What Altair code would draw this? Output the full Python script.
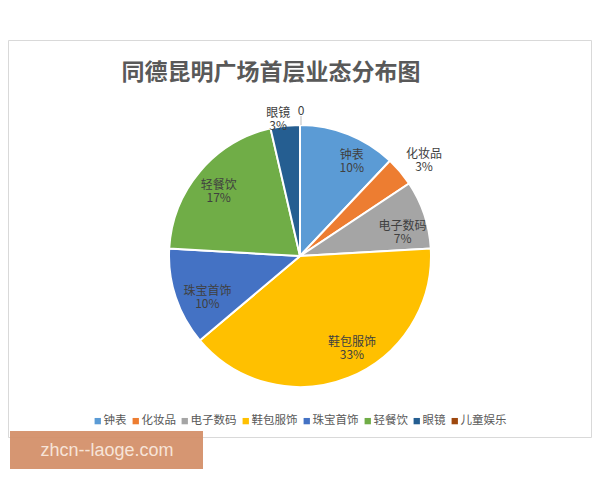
import altair as alt
import pandas as pd

categories = ["钟表", "化妆品", "电子数码", "鞋包服饰", "珠宝首饰", "轻餐饮", "眼镜", "儿童娱乐"]
values = [10, 3, 7, 33, 10, 17, 3, 0]
pct_labels = ["10%", "3%", "7%", "33%", "10%", "17%", "3%", "0"]
colors = ["#5B9BD5", "#ED7D31", "#A5A5A5", "#FFC000", "#4472C4", "#70AD47", "#255E91", "#9E480E"]
title_text = "同德昆明广场首层业态分布图"
watermark = "zhcn--laoge.com"

labels = []
for c, v, p in zip(categories, values, pct_labels):
    labels.append(p if v == 0 else c + "\n" + p)

df = pd.DataFrame({
    "category": categories,
    "value": values,
    "label": labels,
    "idx": list(range(len(categories))),
})

FONT = "Noto Sans CJK SC"
CX, CY = 292, 248
LH = 13

frame = alt.Chart(pd.DataFrame({"a": [0]})).mark_rect(
    fill="white", stroke="#d9d9d9", strokeWidth=1
).encode(
    x=alt.value(0.5), x2=alt.value(583.5), y=alt.value(32.5), y2=alt.value(429.5)
)

title = alt.Chart(pd.DataFrame({"t": [title_text]})).mark_text(
    font=FONT, fontSize=23, fontWeight="bold", color="#595959", align="center", baseline="middle"
).encode(text="t:N", x=alt.value(263), y=alt.value(65))

base = alt.Chart(df).encode(
    theta=alt.Theta("value:Q", stack=True),
    order=alt.Order("idx:Q"),
)

pie = base.mark_arc(outerRadius=131, stroke="white", strokeWidth=2).encode(
    color=alt.Color(
        "category:N",
        sort=categories,
        scale=alt.Scale(domain=categories, range=colors),
        legend=alt.Legend(
            title=None, orient="none", legendX=84, legendY=407, direction="horizontal",
            columns=8, symbolType="square", symbolSize=40, symbolStrokeWidth=0,
            labelFont=FONT, labelFontSize=11.5, labelColor="#595959", labelOffset=0,
            columnPadding=3, padding=0,
        ),
    ),
    x=alt.value(CX), y=alt.value(CY),
)


def text_layer(cat, radius, dx=0, dy=0):
    pred = alt.FieldEqualPredicate(field="category", equal=cat)
    return base.mark_text(
        radius=radius, font=FONT, fontSize=12, color="#404040", lineBreak="\n", lineHeight=LH,
        align="center", baseline="middle", dx=dx, dy=dy,
    ).encode(
        text=alt.condition(pred, alt.Text("label:N"), alt.value("")),
        detail="category:N",
        x=alt.value(CX), y=alt.value(CY),
    )


text_layers = [
    text_layer("钟表", 105, dx=13, dy=-3.5),
    text_layer("化妆品", 157, dx=4, dy=-0.5),
    text_layer("电子数码", 105, dx=3, dy=3.5),
    text_layer("鞋包服饰", 108, dx=12, dy=-14.5),
    text_layer("珠宝首饰", 105, dx=7, dy=1.5),
    text_layer("轻餐饮", 105, dx=-1, dy=-3.5),
    text_layer("眼镜", 140, dx=-6, dy=-3.5),
    text_layer("儿童娱乐", 147, dx=1, dy=2),
]

leader = alt.Chart(pd.DataFrame({"a": [0]})).mark_rule(color="#bfbfbf", strokeWidth=1).encode(
    x=alt.value(293), y=alt.value(108), y2=alt.value(117)
)

wm_box = alt.Chart(pd.DataFrame({"a": [0]})).mark_rect(fill="#D4906A", opacity=0.95).encode(
    x=alt.value(2), x2=alt.value(195), y=alt.value(423), y2=alt.value(461)
)
wm_text = alt.Chart(pd.DataFrame({"t": [watermark]})).mark_text(
    font="Liberation Sans", fontSize=18, color="#F7E4D8", align="center", baseline="middle"
).encode(text="t:N", x=alt.value(99), y=alt.value(443))

chart = alt.layer(
    frame, title, pie, leader, *text_layers, wm_box, wm_text
).properties(
    width=584, height=464, autosize=alt.AutoSizeParams(type="none"), padding=0,
).configure_view(stroke=None)

chart.save("out.html", embed_options={"renderer": "svg", "actions": False})
